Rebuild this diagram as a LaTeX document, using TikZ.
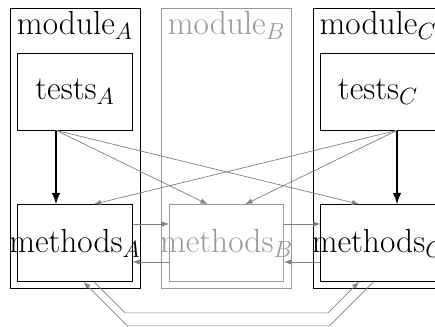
\documentclass[tikz,border=0pt]{standalone}
\usepackage{fix-cm}
\usepackage{tikz}
\usepackage{amsmath}

\definecolor{fade}{gray}{0.6}
\definecolor{wire}{gray}{0.5}

\begin{document}
\begin{tikzpicture}[node distance={30.3mm}]
\tikzset{
    big/.style={font=\fontsize{19pt}{23pt}\selectfont},
    module/.style={draw, minimum width=26mm, minimum height=56mm, inner sep=0pt},
    unit/.style={draw, fill=white, minimum width=22.9mm, minimum height=15.4mm, inner sep=0pt, big},
    call/.style={draw=wire, -latex},
    owns/.style={very thick, -latex}
}
\useasboundingbox (0,0) rectangle (8.7,6.52);
    % modules
    \node[module, label={[anchor=north, inner sep=2pt, big]north:module$_A$}] (modA) at (1.5,3.56) {};
    \node[module, draw=fade, label={[anchor=north, inner sep=2pt, big, text=fade]north:module$_B$}] (modB) [right of=modA] {};
    \node[module, label={[anchor=north, inner sep=2pt, big]north:module$_C$}] (modC) [right of=modB] {};
    % tests and methods
    \node[unit] (testsA) at (1.5,4.69) {tests$_A$};
    \node[unit] (methA) [below of=testsA] {\makebox[0pt]{methods$_A$}};
    \node[unit, draw=fade, text=fade] (methB) [right of=methA] {\makebox[0pt]{methods$_B$}};
    \node[unit] (methC) [right of=methB] {\makebox[0pt]{methods$_C$}};
    \node[unit] (testsC) [above of=methC] {tests$_C$};
\begin{scope}
    \draw[owns] ([xshift=-3.8mm]testsA.south) -- ([xshift=-3.8mm]methA.north);
    \draw[owns] ([xshift=3.8mm]testsC.south) -- ([xshift=3.8mm]methC.north);
    \draw[call] ([xshift=-3.8mm]testsA.south) -- ([xshift=-3.8mm]methB.north);
    \draw[call] ([xshift=-3.8mm]testsA.south) -- ([xshift=-3.8mm]methC.north);
    \draw[call] ([xshift=3.8mm]testsC.south) -- ([xshift=3.8mm]methA.north);
    \draw[call] ([xshift=3.8mm]testsC.south) -- ([xshift=3.8mm]methB.north);
    % neighbours
    \draw[call] ([yshift=3.8mm]methA.east) -- ([yshift=3.8mm]methB.west);
    \draw[call] ([yshift=-3.8mm]methB.west) -- ([yshift=-3.8mm]methA.east);
    \draw[call] ([yshift=3.8mm]methB.east) -- ([yshift=3.8mm]methC.west);
    \draw[call] ([yshift=-3.8mm]methC.west) -- ([yshift=-3.8mm]methB.east);
    % round the bottom
    \draw[call] ([xshift=3.8mm]methA.south) -- ++(6.2mm,-6.2mm)
        -- ([xshift=-10mm,yshift=-6.2mm]methC.south) -- ([xshift=-3.8mm]methC.south);
    \draw[call] ([xshift=-0.9mm]methC.south) -- ++(-8.8mm,-8.8mm)
        -- ([xshift=10.5mm,yshift=-8.8mm]methA.south) -- ([xshift=1.7mm]methA.south);
\end{scope}
\end{tikzpicture}
\end{document}
